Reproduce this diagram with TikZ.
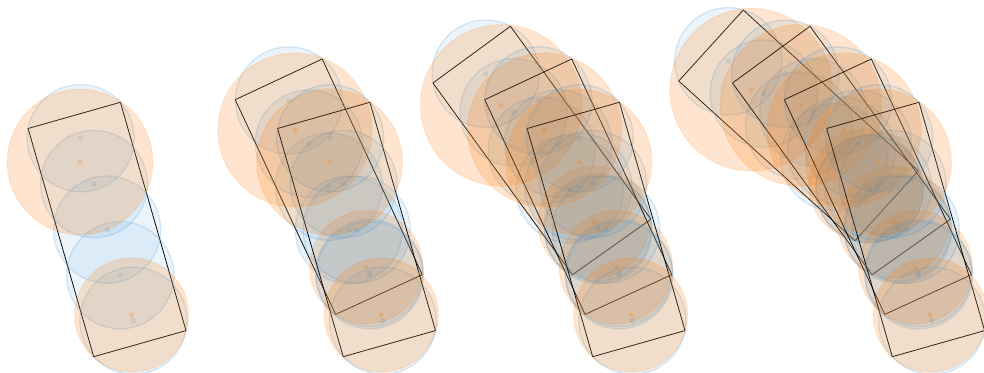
\documentclass[tikz,border=0pt]{standalone}
\usepackage{xcolor}
\definecolor{linkblue}{HTML}{3A8FD0}
\definecolor{linkorange}{HTML}{FF7F0E}
\tikzset{
  linkedge/.style={draw=black,line width=0.6pt,line join=round},
  bluedisc/.style={fill=linkblue,fill opacity=0.095,draw=linkblue,draw opacity=0.2,line width=1pt},
  orangedisc/.style={fill=linkorange,fill opacity=0.2,draw=linkorange,draw opacity=0.12,line width=1pt},
  bluedot/.style={fill=linkblue,fill opacity=0.15,draw=linkblue,draw opacity=0.15,line width=0.6pt},
  orangedot/.style={fill=linkorange,fill opacity=0.28}
}
% one link = box, row of blue discs, orange end discs
\newcommand{\drawlink}[6]{
  \draw[linkedge] #1 -- cycle;
  \foreach \c in {#6}{
    \path[bluedisc] \c circle (53.6);
    \path[bluedot] \c circle (2.2);
  }
  \foreach \c/\r in {#2/#3,#4/#5}{
    \path[orangedisc] \c circle (\r);
    \path[orangedot] \c circle (2.4);
  }
}
\newcommand{\linkA}{\drawlink{(678.7,81)--(743.3,10)--(918.3,170.7)--(855,240.7)}{(751.3,89.7)}{81.3}{(865,185)}{56}{(728.3,61.3),(763.7,93.5),(799,125.4),(834.3,157.2),(869.7,189)}}
\newcommand{\linkB}{\drawlink{(732.5,83)--(810,26.3)--(950.5,219.2)--(872,274.8)}{(800.8,105.3)}{80.7}{(893.5,222.2)}{56}{(785.3,73.7),(813.3,112.2),(841.3,150.7),(869.3,189.2),(897.3,227.7)}}
\newcommand{\linkC}{\drawlink{(784.3,99.7)--(871.3,59)--(971.4,274.7)--(884.7,314.4)}{(844,130)}{77}{(915.5,267.2)}{56.7}{(838,100.5),(858,143.6),(878,186.7),(898,229.8),(918.3,273)}}
\newcommand{\linkD}{\drawlink{(826.7,128.5)--(919,102.3)--(984.6,330.6)--(892.3,356.7)}{(878.6,162)}{72.8}{(930.3,315)}{57}{(879.3,138.3),(892.6,184),(905.7,229.6),(918.8,275.2),(932,320.7)}}

\begin{document}
\begin{tikzpicture}[x=0.75pt,y=-0.75pt]
  \useasboundingbox (0,0) rectangle (984,373);
  \clip (0,0) rectangle (984,373);
  % first pose
  \begin{scope}[shift={(-798.6,0)}]
    \linkD
  \end{scope}
  % second pose
  \begin{scope}[shift={(-549.1,0)}]
    \linkC \linkD
  \end{scope}
  % third pose
  \begin{scope}[shift={(-299.6,0)}]
    \linkB \linkC \linkD
  \end{scope}
  % fourth pose
  \linkA \linkB \linkC \linkD
\end{tikzpicture}
\end{document}
